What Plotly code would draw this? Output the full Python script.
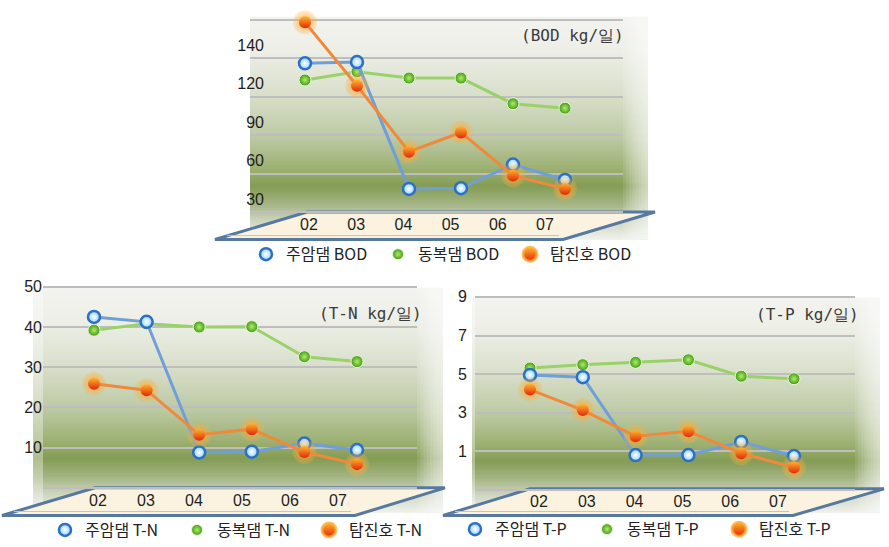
import plotly.graph_objects as go

W, H = 889, 547

# ---------------- data ----------------
years = ["02", "03", "04", "05", "06", "07"]
series_names = ["주암댐", "동복댐", "탐진호"]

bod_juam = [136, 137, 38, 38.5, 57, 45]
bod_dongbok = [123, 129.5, 124.5, 124.5, 104.5, 101]
bod_tamjin = [168, 118.5, 67, 82, 48.5, 38]

tn_juam = [42.5, 41.3, 8.8, 9.0, 11.0, 9.4]
tn_dongbok = [39.2, 40.8, 40.0, 40.1, 32.6, 31.4]
tn_tamjin = [25.9, 24.3, 13.2, 14.6, 8.9, 5.9]

tp_juam = [4.96, 4.84, 0.81, 0.81, 1.49, 0.76]
tp_dongbok = [5.32, 5.49, 5.61, 5.74, 4.89, 4.76]
tp_tamjin = [4.2, 3.14, 1.78, 2.04, 0.9, 0.17]

bod_tickvals = [30, 60, 90, 120, 150]
bod_ticktext = ["30", "60", "90", "120", "140"]
tn_tickvals = [0, 10, 20, 30, 40, 50]
tn_ticktext = ["", "10", "20", "30", "40", "50"]
tp_tickvals = [-1, 1, 3, 5, 7, 9]
tp_ticktext = ["", "1", "3", "5", "7", "9"]

# ---------------- helpers ----------------
def px(x):
    return x / W


def py(y):
    return 1 - y / H


def hex2rgb(h):
    h = h.lstrip("#")
    return tuple(int(h[i:i + 2], 16) for i in (0, 2, 4))


STOPS = [(0.00, "#F3F3EF"), (0.15, "#EDEFE7"), (0.35, "#D9DFCB"),
         (0.55, "#BBC8A2"), (0.68, "#9DB173"), (0.76, "#849C55"),
         (0.84, "#A3B483"), (0.92, "#CFD6C1"), (1.00, "#EFF1EB")]


def grad_color(f):
    for (f1, c1), (f2, c2) in zip(STOPS[:-1], STOPS[1:]):
        if f1 <= f <= f2:
            t = (f - f1) / (f2 - f1)
            a, b = hex2rgb(c1), hex2rgb(c2)
            r = [round(a[i] + (b[i] - a[i]) * t) for i in range(3)]
            return "rgb(%d,%d,%d)" % tuple(r)
    return STOPS[-1][1]


panels = [
    dict(key="BOD", data=(bod_juam, bod_dongbok, bod_tamjin), unit="(BOD kg/일)",
         grid=(250, 623), bg=(250, 648, 11, 237), dom_y=(8, 237),
         x0=305, step=52, lab0=309, labstep=47.2, lab_y=221,
         yref=(196, 30, 1.3), tickvals=bod_tickvals, ticktext=bod_ticktext,
         minor=True, ylab_right=261,
         floor=[(307, 209), (655, 209), (563, 237), (215, 237)],
         legend_text_x=280, legend_y=252, unit_x=626, unit_y=30),
    dict(key="T-N", data=(tn_juam, tn_dongbok, tn_tamjin), unit="(T-N kg/일)",
         grid=(43, 417), bg=(33, 443, 286, 514), dom_y=(283, 514),
         x0=94, step=52.6, lab0=98, labstep=48, lab_y=501,
         yref=(489, 0, 4.08), tickvals=tn_tickvals, ticktext=tn_ticktext,
         minor=False, ylab_right=39,
         floor=[(95, 489), (445, 489), (355, 517), (2, 517)],
         legend_text_x=79, legend_y=532, unit_x=424, unit_y=312),
    dict(key="T-P", data=(tp_juam, tp_dongbok, tp_tamjin), unit="(T-P kg/일)",
         grid=(475, 855), bg=(472, 880, 296, 514), dom_y=(292, 514),
         x0=530, step=52.8, lab0=539, labstep=47.8, lab_y=502,
         yref=(452, 1, 19.6), tickvals=tp_tickvals, ticktext=tp_ticktext,
         minor=False, ylab_right=464,
         floor=[(530, 490), (884, 490), (793, 517), (443, 517)],
         legend_text_x=489, legend_y=531, unit_x=861, unit_y=313),
]

line_colors = ["#6F9FD8", "#9BD16A", "#F08A3A"]

marker_juam = dict(size=12, color="#8FD2FF",
                   gradient=dict(type="radial", color="#FFFFFF"),
                   line=dict(color="#2C6FC4", width=2.5))
marker_dong = dict(size=12, color="#3F9A12",
                   gradient=dict(type="radial", color="#B0EC68"),
                   line=dict(color="#E9F5DC", width=1))
marker_tam_glow = dict(size=24, color="rgba(255,175,60,0.2)",
                       gradient=dict(type="radial", color="rgba(255,165,35,0.9)"),
                       line=dict(width=0))
marker_tam = dict(size=12, color="#FFB52A",
                  gradient=dict(type="vertical", color="#E3260C"),
                  line=dict(width=0))

fig = go.Figure()
shapes = []
annotations = []
layout = {}

for i, p in enumerate(panels):
    n = "" if i == 0 else str(i + 1)
    xa, ya, xl = "x" + n, "y" + n, "x" + str(i + 4)
    legend_id = "legend" + n
    gl, gr = p["grid"]
    y_ref, v_ref, ppu = p["yref"]
    top, bot = p["dom_y"]

    def val(ypx):
        return v_ref + (y_ref - ypx) / ppu

    # background gradient: one band per px row, each extended downward to bottom
    bl, br, bt, bb = p["bg"]
    rows = int(round(bb - bt))
    for k in range(0, rows, 2):
        y1 = bt + k
        shapes.append(dict(type="rect", xref="paper", yref="paper",
                           x0=px(bl), x1=px(br),
                           y0=py(min(y1 + 4, bb)), y1=py(y1),
                           fillcolor=grad_color((k + 1) / rows),
                           line=dict(width=0), layer="below"))
    # side wall (right) lighter: nested overlapping rects
    ns = 8
    for k in range(ns):
        x1 = gr + (br - gr) * k / ns
        shapes.append(dict(type="rect", xref="paper", yref="paper",
                           x0=px(x1), x1=px(br), y0=py(bb), y1=py(bt),
                           fillcolor="rgba(255,255,255,0.11)",
                           line=dict(width=0), layer="below"))
    if gl > bl:
        shapes.append(dict(type="rect", xref="paper", yref="paper",
                           x0=px(bl), x1=px(gl), y0=py(bb), y1=py(bt),
                           fillcolor="rgba(255,255,255,0.35)",
                           line=dict(width=0), layer="below"))
    # floor
    f = p["floor"]
    path = "M %f %f L %f %f L %f %f L %f %f Z" % tuple(
        v for pt in f for v in (px(pt[0]), py(pt[1])))
    shapes.append(dict(type="path", xref="paper", yref="paper", path=path,
                       fillcolor="#FBF3DF", line=dict(color="#57799F", width=3),
                       layer="below"))
    shapes.append(dict(type="line", xref="paper", yref="paper",
                       x0=px(f[3][0] + 12), x1=px(f[2][0] - 4),
                       y0=py(f[3][1] - 4), y1=py(f[2][1] - 4),
                       line=dict(color="#D2C3A2", width=1), layer="below"))

    # axes
    xr = [(gl - p["x0"]) / p["step"], (gr - p["x0"]) / p["step"]]
    lr = [(gl - p["lab0"]) / p["labstep"], (gr - p["lab0"]) / p["labstep"]]
    layout["xaxis" + n] = dict(domain=[px(gl), px(gr)], range=xr, anchor=ya,
                               visible=False, showgrid=False, zeroline=False)
    layout["xaxis" + str(i + 4)] = dict(
        overlaying=xa, range=lr, anchor="free", position=py(p["lab_y"] - 11),
        tickmode="array", tickvals=list(range(len(years))), ticktext=years,
        showgrid=False, zeroline=False, showline=False, ticks="",
        tickfont=dict(family="Liberation Sans", size=16, color="#1E1E1E"))
    yax = dict(domain=[py(bot), py(top)], range=[val(bot), val(top)],
               anchor="free", position=px(p["ylab_right"] + 3),
               tickmode="array", tickvals=p["tickvals"], ticktext=p["ticktext"],
               zeroline=False, showline=False, ticks="",
               tickfont=dict(family="Liberation Sans", size=16, color="#1E1E1E"),
               gridcolor="#BEBEBE", gridwidth=1.5)
    if p["minor"]:
        yax["showgrid"] = False
        yax["minor"] = dict(tickmode="linear", tick0=20, dtick=30, showgrid=True,
                            gridcolor="#BEBEBE", gridwidth=1.5, ticks="")
    else:
        yax["showgrid"] = True
    layout["yaxis" + n] = yax

    xs = list(range(len(years)))
    juam, dong, tam = p["data"]
    fig.add_trace(go.Scatter(x=[None], y=[None], xaxis=xl, yaxis=ya,
                             showlegend=False, hoverinfo="skip"))
    fig.add_trace(go.Scatter(x=xs, y=dong, xaxis=xa, yaxis=ya, mode="lines+markers",
                             line=dict(color=line_colors[1], width=3),
                             marker=marker_dong, showlegend=False, cliponaxis=False))
    fig.add_trace(go.Scatter(x=xs, y=juam, xaxis=xa, yaxis=ya, mode="lines+markers",
                             line=dict(color=line_colors[0], width=3),
                             marker=marker_juam, showlegend=False, cliponaxis=False))
    fig.add_trace(go.Scatter(x=xs, y=tam, xaxis=xa, yaxis=ya, mode="markers",
                             marker=marker_tam_glow, showlegend=False, cliponaxis=False))
    fig.add_trace(go.Scatter(x=xs, y=tam, xaxis=xa, yaxis=ya, mode="lines+markers",
                             line=dict(color=line_colors[2], width=3),
                             marker=marker_tam, showlegend=False, cliponaxis=False))

    leg_markers = [
        dict(size=12, color="#8FD2FF", gradient=dict(type="radial", color="#FFFFFF"),
             line=dict(color="#2C6FC4", width=2.5)),
        dict(size=11, color="#3F9A12", gradient=dict(type="radial", color="#B0EC68"),
             line=dict(color="#E9F5DC", width=1)),
        dict(size=14, color="#FFB52A", gradient=dict(type="vertical", color="#E3260C"),
             line=dict(color="rgba(255,170,50,0.75)", width=3)),
    ]
    for s, mk in zip(series_names, leg_markers):
        fig.add_trace(go.Scatter(x=[None], y=[None], xaxis=xa, yaxis=ya, mode="markers",
                                 marker=mk, name=s + " " + p["key"], legend=legend_id,
                                 showlegend=True))
    layout[legend_id] = dict(orientation="h", x=px(p["legend_text_x"] - 34),
                             y=py(p["legend_y"]), xanchor="left", yanchor="middle",
                             font=dict(family="Noto Sans CJK KR", size=16, color="#222222"),
                             bgcolor="rgba(0,0,0,0)", entrywidth=87,
                             entrywidthmode="pixels", traceorder="normal",
                             itemclick=False, itemdoubleclick=False)
    annotations.append(dict(text=p["unit"], xref="paper", yref="paper",
                            x=px(p["unit_x"]), y=py(p["unit_y"]), xanchor="right",
                            yanchor="middle", showarrow=False,
                            font=dict(family="DejaVu Sans Mono", size=16, color="#3A3A3A")))

fig.update_layout(width=W, height=H, margin=dict(l=0, r=0, t=0, b=0),
                  paper_bgcolor="white", plot_bgcolor="rgba(0,0,0,0)",
                  shapes=shapes, annotations=annotations, hovermode=False, **layout)

fig.write_html("out.html", config={"displayModeBar": False},
               post_script="document.body.style.margin='0';document.body.style.padding='0';")
